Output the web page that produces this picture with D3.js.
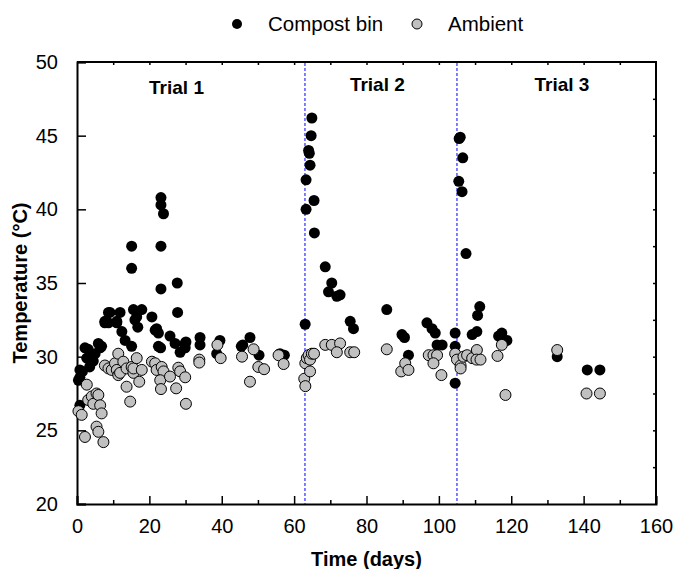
<!DOCTYPE html>
<html lang="en">
<head>
    <meta charset="UTF-8">
    <title>Compost temperature</title>
    <script src="https://d3js.org/d3.v7.min.js"></script>
    <style>
        body {margin: 0; background: #fff;}
        text {font-family: Arial, "Liberation Sans", sans-serif; fill: #000;}
        .tick text {font-size: 20px;}
        .axisTitle {font-size: 20px; font-weight: bold;}
        .trial {font-size: 19px; font-weight: bold;}
        .legend text {font-size: 20.5px;}
    </style>
</head>
<body>
<div id="chart"></div>
<script>

    // compost bin temperature (black)
    var compostDay = [0.8, 0.4, 0.8, 0.8, 1.5, 2.2, 2.7, 3.1, 3.5, 4.5, 5.0, 5.9, 6.4, 6.8, 7.7, 7.7, 8.7, 8.7, 9.1, 11.0, 11.0, 11.9,
        12.4, 13.3, 15.1, 15.1, 15.1, 15.6, 16.0, 16.5, 16.8, 17.9, 20.7, 21.6, 22.0, 22.5, 22.5, 23.1, 23.2, 23.2, 23.9, 23.2, 23.2,
        25.7, 27.1, 27.7, 27.8, 28.5, 29.9, 29.9, 30.1, 34.0, 34.0, 38.6, 39.5, 45.4, 45.8, 47.8, 50.3, 56.1, 57.3,
        63.05, 64.9, 64.7, 64.0, 64.2, 64.4, 63.3, 65.5, 63.3, 65.6, 68.6, 70.4, 69.5, 71.8, 72.7, 75.5, 76.4, 85.6, 89.8, 90.5, 91.6,
        96.7, 98.1, 99.0, 99.5, 100.9, 104.5, 104.5, 104.5,
        105.6, 105.9, 106.6, 105.5, 106.4, 107.5, 109.2, 110.5, 110.7, 111.3, 116.5, 117.4, 118.8, 132.7, 141.0, 144.5];
    var compostTemp = [26.7, 28.4, 28.6, 29.1, 29.0, 30.6, 29.9, 30.5, 29.3, 29.7, 30.2, 30.9, 30.6, 30.7, 32.4, 32.3, 32.3, 33.0, 33.0, 32.3, 32.4, 33.0,
        31.7, 31.1, 30.7, 37.5, 36.0, 33.2, 32.5, 32.7, 32.0, 33.2, 32.7, 31.8, 31.9, 30.7, 31.6, 30.6, 40.8, 40.3, 39.7, 37.5, 34.6,
        31.4, 30.9, 35.0, 33.0, 30.3, 30.9, 30.6, 31.0, 31.3, 30.8, 30.2, 31.1, 30.7, 30.8, 31.3, 30.1, 30.2, 30.1,
        32.2, 46.2, 45.0, 44.0, 43.8, 43.0, 42.0, 40.6, 40.0, 38.4, 36.1, 35.0, 34.4, 34.1, 34.2, 32.4, 31.9, 33.2, 31.5, 31.3, 30.1,
        32.3, 31.9, 31.6, 30.8, 30.8, 31.6, 30.7, 28.2,
        44.8, 44.9, 43.5, 41.9, 41.2, 37.0, 31.5, 31.7, 32.8, 33.4, 31.4, 31.6, 31.1, 30.0, 29.1, 29.1];

    // ambient temperature (grey)
    var ambientDay = [0.4, 1.3, 2.2, 2.7, 3.1, 4.1, 4.5, 5.4, 5.9, 6.4, 6.8, 5.4, 5.9, 7.3, 7.7, 8.7, 9.6, 10.5, 11.0, 11.4, 11.4, 11.9,
        12.8, 13.7, 13.7, 14.7, 15.1, 15.6, 15.6, 16.5, 17.2, 17.9, 20.7, 21.6, 22.0, 23.4, 23.9, 23.0, 23.2, 25.7, 27.4, 28.0, 28.5,
        29.9, 30.1, 33.8, 33.8, 38.8, 39.7, 45.6, 47.8, 48.8, 50.1, 51.7, 55.7, 57.1,
        62.8, 63.1, 63.1, 63.5, 64.0, 64.4, 64.4, 64.9, 65.5, 68.6, 70.4, 72.7, 71.8, 75.5, 76.6, 85.6, 89.6, 90.7, 91.6,
        97.2, 98.5, 99.5, 98.5, 100.7, 104.5,
        105.0, 106.0, 106.0, 106.8, 107.8, 109.2, 110.5, 110.4, 111.5, 116.2, 117.4, 118.4, 132.7, 140.8, 144.5];
    var ambientTemp = [26.3, 26.05, 24.55, 28.1, 27.06, 27.3, 26.8, 27.5, 27.4, 26.7, 26.15, 25.25, 24.9, 24.2, 29.4, 29.2, 29.1, 29.55, 29.1, 30.2, 28.75, 28.9,
        29.66, 29.2, 27.96, 26.95, 29.3, 28.9, 29.2, 29.9, 28.3, 29.1, 29.66, 29.55, 29.1, 29.3, 29.0, 28.4, 27.8, 28.65, 27.85, 29.25, 29.0,
        28.6, 26.8, 29.8, 29.6, 30.8, 29.9, 30.0, 28.3, 30.5, 29.3, 29.15, 30.1, 29.5,
        28.5, 28.0, 29.55, 29.9, 30.1, 29.0, 29.8, 30.2, 30.2, 30.8, 30.8, 30.9, 30.3, 30.3, 30.3, 30.5, 29.0, 29.55, 29.1,
        30.1, 30.1, 30.1, 29.55, 28.75, 30.2,
        29.8, 29.4, 29.2, 30.0, 30.1, 29.9, 30.45, 29.8, 29.8, 30.05, 30.8, 27.4, 30.45, 27.5, 27.5];

    var trialStarts = [63, 105];
    var trialNames = ["Trial 1", "Trial 2", "Trial 3"];
    var trialLabelX = [27.5, 83, 134];
    var xTicks = [0, 20, 40, 60, 80, 100, 120, 140, 160];
    var yTicks = [20, 25, 30, 35, 40, 45, 50];
    var seriesNames = ["Compost bin", "Ambient"];

    var W = 674, H = 569;
    var margin = {top: 62, right: 18, bottom: 65, left: 77},
        width = W - margin.left - margin.right,
        height = H - margin.top - margin.bottom;

    var x = d3.scaleLinear().domain([0, 160]).range([0, width]);
    var y = d3.scaleLinear().domain([20, 50]).range([height, 0]);

    var svg = d3.select("#chart").append("svg")
        .attr("width", W)
        .attr("height", H);

    var g = svg.append("g")
        .attr("transform", "translate(" + margin.left + "," + margin.top + ")");

    // minor ticks on frame (top + right)
    g.append("g")
        .call(d3.axisTop(x).tickValues(d3.range(10, 160, 10)).tickSize(-3).tickFormat(""))
        .call(function(a) {a.select(".domain").remove()});
    g.append("g")
        .attr("transform", "translate(" + width + ",0)")
        .call(d3.axisRight(y).tickValues(d3.range(22.5, 50, 2.5)).tickSize(-3).tickFormat(""))
        .call(function(a) {a.select(".domain").remove()});

    // bottom axis, major + minor ticks pointing in
    g.append("g")
        .attr("transform", "translate(0," + height + ")")
        .call(d3.axisBottom(x).tickValues(d3.range(10, 160, 20)).tickSize(-4).tickFormat(""))
        .call(function(a) {a.select(".domain").remove()});
    var xAxis = g.append("g")
        .attr("transform", "translate(0," + height + ")")
        .call(d3.axisBottom(x).tickValues(xTicks).tickSize(-8).tickPadding(15).tickFormat(d3.format("d")));
    xAxis.selectAll(".tick text").attr("dy", "0.71em");

    var yAxis = g.append("g")
        .call(d3.axisLeft(y).tickValues(yTicks).tickSize(-9).tickPadding(19).tickFormat(d3.format("d")));

    g.selectAll(".domain").attr("stroke-width", 2);
    g.selectAll(".tick line").attr("stroke-width", 1.5);

    // frame
    g.append("path")
        .attr("d", "M0,0H" + width + "V" + height)
        .attr("fill", "none")
        .attr("stroke", "#000")
        .attr("stroke-width", 2);

    // trial separators
    g.selectAll(".sep")
        .data(trialStarts)
        .enter().append("line")
        .attr("class", "sep")
        .attr("x1", function(d) {return x(d)})
        .attr("x2", function(d) {return x(d)})
        .attr("y1", 1)
        .attr("y2", height)
        .attr("stroke", "#0000ff")
        .attr("stroke-width", 1)
        .attr("stroke-dasharray", "3,2");

    g.selectAll(".trial")
        .data(trialNames)
        .enter().append("text")
        .attr("class", "trial")
        .attr("x", function(d, i) {return x(trialLabelX[i])})
        .attr("y", function(d, i) {return i == 0 ? 32 : 29})
        .attr("text-anchor", "middle")
        .text(function(d) {return d});

    // points: compost first, ambient on top
    g.append("g").selectAll("circle")
        .data(compostDay)
        .enter().append("circle")
        .attr("cx", function(d) {return x(d)})
        .attr("cy", function(d, i) {return y(compostTemp[i])})
        .attr("r", 5.5)
        .attr("fill", "#000");

    g.append("g").selectAll("circle")
        .data(ambientDay)
        .enter().append("circle")
        .attr("cx", function(d) {return x(d)})
        .attr("cy", function(d, i) {return y(ambientTemp[i])})
        .attr("r", 5.5)
        .attr("fill", "#c0c0c0")
        .attr("stroke", "#000")
        .attr("stroke-width", 1);

    // axis titles
    svg.append("text")
        .attr("class", "axisTitle")
        .attr("x", margin.left + width / 2)
        .attr("y", 566)
        .attr("text-anchor", "middle")
        .text("Time (days)");

    svg.append("text")
        .attr("class", "axisTitle")
        .attr("transform", "translate(27," + (margin.top + height / 2) + ") rotate(-90)")
        .attr("text-anchor", "middle")
        .text("Temperature (°C)");

    // legend
    var legend = svg.append("g").attr("class", "legend");
    var legX = [237, 417];
    legend.selectAll("circle")
        .data(seriesNames)
        .enter().append("circle")
        .attr("cx", function(d, i) {return legX[i]})
        .attr("cy", 24)
        .attr("r", 5)
        .attr("fill", function(d, i) {return i == 0 ? "#000" : "#c0c0c0"})
        .attr("stroke", "#000")
        .attr("stroke-width", function(d, i) {return i == 0 ? 0 : 1});
    legend.selectAll("text")
        .data(seriesNames)
        .enter().append("text")
        .attr("x", function(d, i) {return legX[i] + 31})
        .attr("y", 31)
        .text(function(d) {return d});

</script>
</body>
</html>
